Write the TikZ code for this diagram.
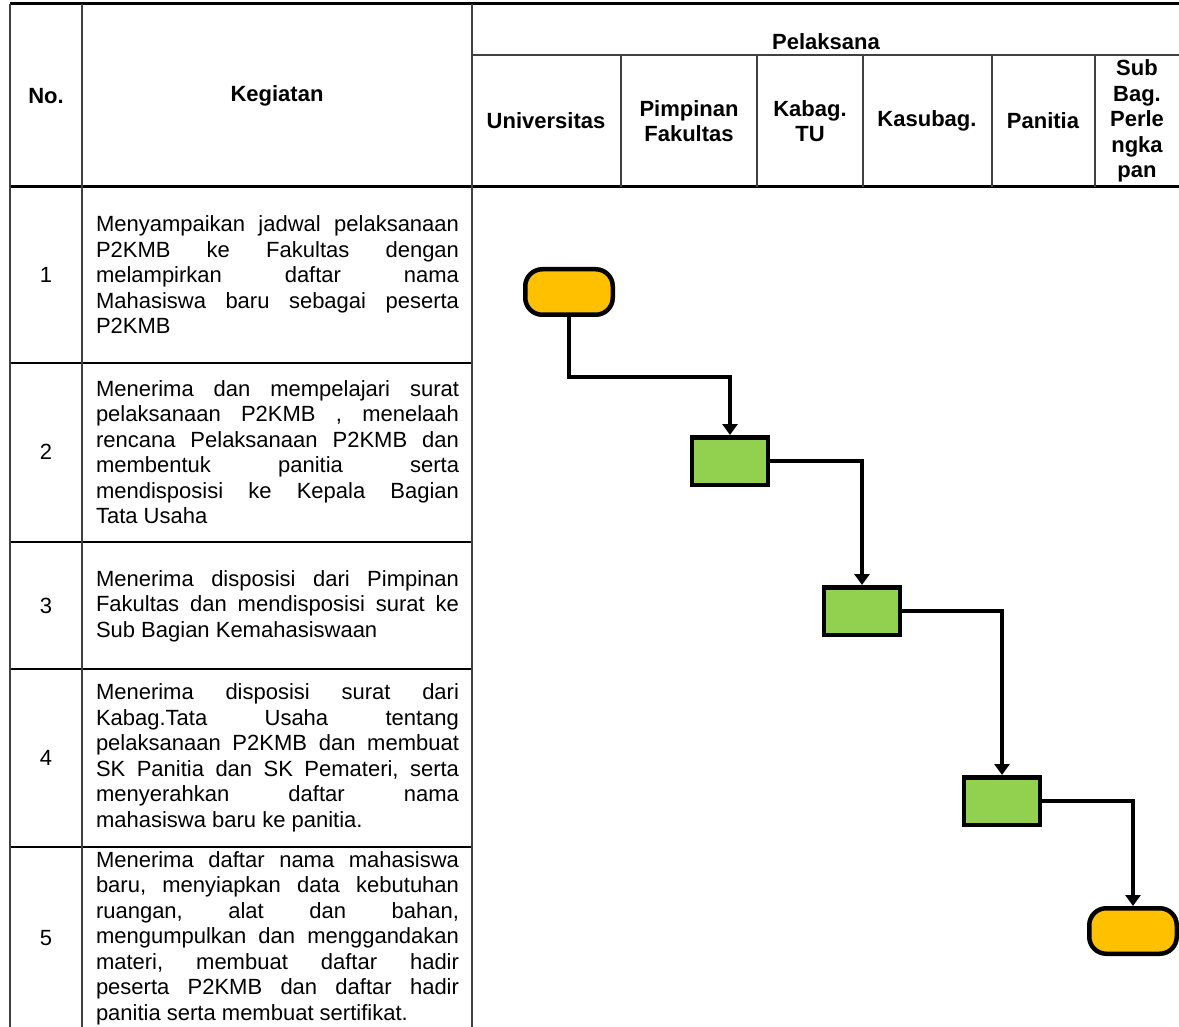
\documentclass[tikz,border=0pt]{standalone}
\usepackage{fontspec}
\setmainfont{Liberation Sans}
\usepackage{tikz}
\usetikzlibrary{shapes}
\usetikzlibrary{positioning}
\usetikzlibrary{arrows.meta}
\usepackage{xcolor}
\definecolor{termorange}{HTML}{FFC000}
\definecolor{actgreen}{HTML}{92D050}

\begin{document}
\begin{tikzpicture}[x=1pt,y=-1pt,
  cell/.style={inner sep=0pt,font=\fontsize{22}{25.5}\selectfont},
  head/.style={inner sep=0pt,font=\fontsize{22}{25.5}\selectfont\bfseries,align=center},
  kegiatan/.style={cell,text width=363pt,align=justify,
    execute at begin node={\tolerance=10000\hyphenpenalty=10000\frenchspacing}},
  terminal/.style={draw,line width=4.5pt,fill=termorange,rounded corners=17pt,
    minimum width=87.5pt,minimum height=45.5pt,inner sep=0pt},
  aktivitas/.style={draw,line width=4.5pt,fill=actgreen,
    minimum width=76pt,minimum height=47.5pt,inner sep=0pt},
  alur/.style={line width=4pt,-{Triangle[width=15pt,length=11pt]}},
  garis/.style={line width=1.5pt,black!75},
  batas/.style={line width=2.5pt}]
\useasboundingbox (0,0) rectangle (1179,1027);

\draw[batas,line width=3pt] (10,4)--(1179,4);
\draw[garis] (472,55)--(1179,55);
\draw[batas,line width=3pt] (10,187)--(1179,187);
\foreach \y in {363,542,669,847} \draw[batas] (10,\y)--(472,\y);
\foreach \x in {10,82,472} \draw[garis] (\x,4)--(\x,1027);
\foreach \x in {621,757,863,992,1095} \draw[garis] (\x,55)--(\x,187);

\node[head] (hNo) at (46,96) {No.};
\node[head] (hKeg) at (277,96) {Kegiatan};
\node[head] (hPel) at (826,42) {Pelaksana};
\node[head] (hUniv) at (546,121) {Universitas};
\node[head] (hPimp) at (689,121) {Pimpinan\\Fakultas};
\node[head] (hKabag) at (810,121) {Kabag.\\TU};
\node[head] (hKasub) at (927,121) {Kasubag.};
\node[head] (hPan) at (1043,121) {Panitia};
\node[head] (hSub) at (1137,121) {Sub\\Bag.\\Perle\\ngka\\pan};

\node[cell] (n1) at (46,275) {1};
\node[cell] (n2) at (46,452) {2};
\node[cell] (n3) at (46,606) {3};
\node[cell] (n4) at (46,758) {4};
\node[cell] (n5) at (46,938) {5};

\node[kegiatan] (k1) at (277.5,275) {Menyampaikan jadwal pelaksanaan\linebreak P2KMB ke Fakultas dengan\linebreak melampirkan daftar nama\linebreak Mahasiswa baru sebagai peserta\linebreak P2KMB};
\node[kegiatan] (k2) at (277.5,452) {Menerima dan mempelajari surat\linebreak pelaksanaan P2KMB , menelaah\linebreak rencana Pelaksanaan P2KMB dan\linebreak membentuk panitia serta\linebreak mendisposisi ke Kepala Bagian\linebreak Tata Usaha};
\node[kegiatan] (k3) at (277.5,606) {Menerima disposisi dari Pimpinan\linebreak Fakultas dan mendisposisi surat ke\linebreak Sub Bagian Kemahasiswaan};
\node[kegiatan] (k4) at (277.5,758) {Menerima disposisi surat dari\linebreak Kabag.Tata Usaha tentang\linebreak pelaksanaan P2KMB dan membuat\linebreak SK Panitia dan SK Pemateri, serta\linebreak menyerahkan daftar nama\linebreak mahasiswa baru ke panitia.};
\node[kegiatan] (k5) at (277.5,938) {Menerima daftar nama mahasiswa\linebreak baru, menyiapkan data kebutuhan\linebreak ruangan, alat dan bahan,\linebreak mengumpulkan dan menggandakan\linebreak materi, membuat daftar hadir\linebreak peserta P2KMB dan daftar hadir\linebreak panitia serta membuat sertifikat.};

\node[terminal] (mulai) at (569,292) {};
\node[aktivitas] (act1) at (730,461) {};
\node[aktivitas] (act2) at (862,611) {};
\node[aktivitas] (act3) at (1002,801) {};
\node[terminal] (selesai) at (1133,931) {};

\draw[alur] (mulai.south)--++(0,60)-|(act1.north);
\draw[alur] (act1.east)-|(act2.north);
\draw[alur] (act2.east)-|(act3.north);
\draw[alur] (act3.east)-|(selesai.north);
\end{tikzpicture}
\end{document}
